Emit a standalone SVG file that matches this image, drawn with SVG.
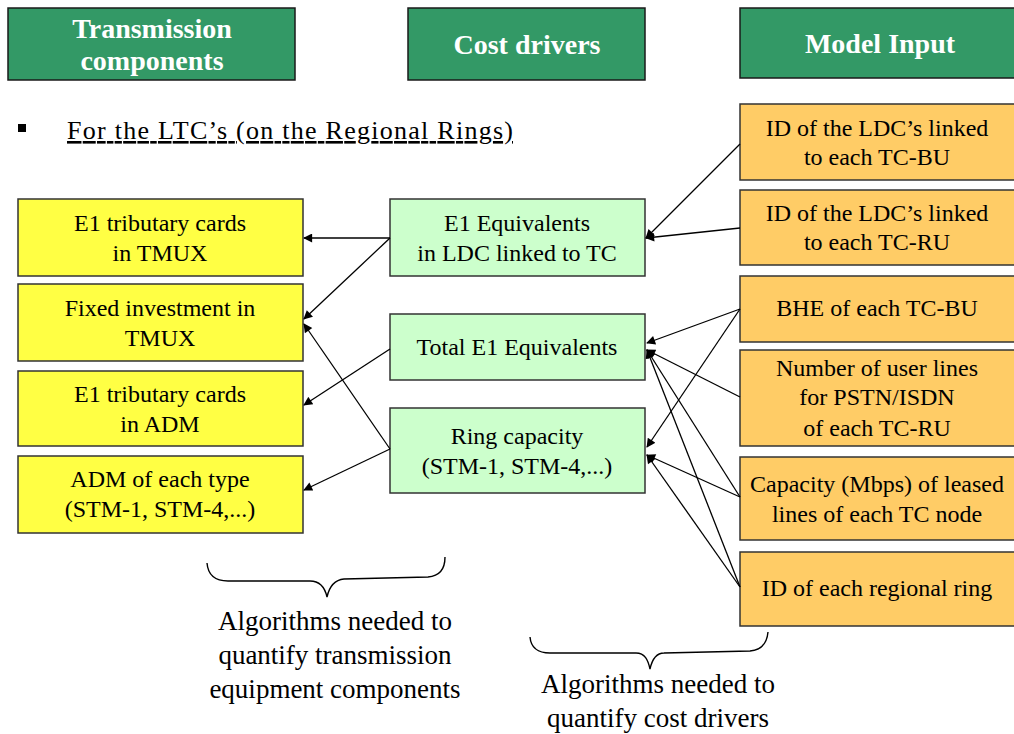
<svg xmlns="http://www.w3.org/2000/svg" width="1014" height="734" viewBox="0 0 1014 734">
  <defs>
    <style>
      .hdr { fill: #339966; stroke: #1a1a1a; stroke-width: 1.5; }
      .hdr-t { font-family: "Liberation Serif", serif; font-weight: bold; font-size: 28px; fill: #ffffff; text-anchor: middle; }
      .yel { fill: #FFFF44; stroke: #333333; stroke-width: 1.5; }
      .grn { fill: #CCFFCC; stroke: #333333; stroke-width: 1.5; }
      .org { fill: #FFCC66; stroke: #333333; stroke-width: 1.5; }
      .t { font-family: "Liberation Serif", serif; font-size: 24px; fill: #000000; text-anchor: middle; }
      .note { font-family: "Liberation Serif", serif; font-size: 27px; fill: #000000; text-anchor: middle; }
      .conn line { stroke: #000000; stroke-width: 1.3; marker-end: url(#arrow); }
      .brace { fill: none; stroke: #000000; stroke-width: 1.4; }
    </style>
    <marker id="arrow" viewBox="0 0 10 10" refX="9" refY="5" markerWidth="11" markerHeight="9" markerUnits="userSpaceOnUse" orient="auto">
      <path d="M0,0 L10,5 L0,10 Z" fill="#000000"/>
    </marker>
  </defs>

  <rect width="1014" height="734" fill="#ffffff"/>

  <!-- column headers -->
  <g id="hdr-transmission">
    <rect class="hdr" x="8" y="8" width="287" height="72"/>
    <text class="hdr-t" x="152" y="38">Transmission</text>
    <text class="hdr-t" x="152" y="70">components</text>
  </g>
  <g id="hdr-cost">
    <rect class="hdr" x="408" y="8" width="237" height="72"/>
    <text class="hdr-t" x="527" y="54">Cost drivers</text>
  </g>
  <g id="hdr-input">
    <rect class="hdr" x="740" y="8" width="280" height="70"/>
    <text class="hdr-t" x="880" y="53">Model Input</text>
  </g>

  <!-- bullet heading -->
  <g id="bullet">
    <rect x="18" y="124" width="8" height="8" fill="#000000"/>
    <text x="67" y="139" font-family="'Liberation Serif', serif" font-size="26" fill="#000000" text-decoration="underline" textLength="446">For the LTC’s (on the Regional Rings)</text>
  </g>

  <!-- transmission components -->
  <g id="tx-e1-tmux">
    <rect class="yel" x="18" y="199" width="285" height="77"/>
    <text class="t" x="160" y="231">E1 tributary cards</text>
    <text class="t" x="160" y="261">in TMUX</text>
  </g>
  <g id="tx-fixed-tmux">
    <rect class="yel" x="18" y="284" width="285" height="77"/>
    <text class="t" x="160" y="316">Fixed investment in</text>
    <text class="t" x="160" y="346">TMUX</text>
  </g>
  <g id="tx-e1-adm">
    <rect class="yel" x="18" y="371" width="285" height="75"/>
    <text class="t" x="160" y="402">E1 tributary cards</text>
    <text class="t" x="160" y="432">in ADM</text>
  </g>
  <g id="tx-adm-type">
    <rect class="yel" x="18" y="456" width="285" height="77"/>
    <text class="t" x="160" y="487">ADM of each type</text>
    <text class="t" x="160" y="517">(STM-1, STM-4,...)</text>
  </g>

  <!-- cost drivers -->
  <g id="cd-e1-ldc">
    <rect class="grn" x="390" y="199" width="255" height="77"/>
    <text class="t" x="517" y="231">E1 Equivalents</text>
    <text class="t" x="517" y="261">in LDC linked to TC</text>
  </g>
  <g id="cd-total-e1">
    <rect class="grn" x="390" y="314" width="255" height="66"/>
    <text class="t" x="517" y="355">Total E1 Equivalents</text>
  </g>
  <g id="cd-ring">
    <rect class="grn" x="390" y="408" width="255" height="85"/>
    <text class="t" x="517" y="444">Ring capacity</text>
    <text class="t" x="517" y="474">(STM-1, STM-4,...)</text>
  </g>

  <!-- model inputs -->
  <g id="in-ldc-bu">
    <rect class="org" x="740" y="104" width="280" height="76"/>
    <text class="t" x="877" y="136">ID of the LDC’s linked</text>
    <text class="t" x="877" y="165">to each TC-BU</text>
  </g>
  <g id="in-ldc-ru">
    <rect class="org" x="740" y="190" width="280" height="75"/>
    <text class="t" x="877" y="221">ID of the LDC’s linked</text>
    <text class="t" x="877" y="250">to each TC-RU</text>
  </g>
  <g id="in-bhe">
    <rect class="org" x="740" y="276" width="280" height="66"/>
    <text class="t" x="877" y="316">BHE of each TC-BU</text>
  </g>
  <g id="in-user-lines">
    <rect class="org" x="740" y="350" width="280" height="96"/>
    <text class="t" x="877" y="376">Number of user lines</text>
    <text class="t" x="877" y="405">for PSTN/ISDN</text>
    <text class="t" x="877" y="436">of each TC-RU</text>
  </g>
  <g id="in-leased">
    <rect class="org" x="740" y="457" width="280" height="83"/>
    <text class="t" x="877" y="492">Capacity (Mbps) of leased</text>
    <text class="t" x="877" y="522">lines of each TC node</text>
  </g>
  <g id="in-ring-id">
    <rect class="org" x="740" y="552" width="280" height="74"/>
    <text class="t" x="877" y="596">ID of each regional ring</text>
  </g>

  <!-- connectors -->
  <g id="connectors" class="conn">
    <!-- model inputs to cost drivers -->
    <line x1="740" y1="144" x2="646" y2="238"/>
    <line x1="740" y1="228" x2="646" y2="238"/>
    <line x1="740" y1="309" x2="647" y2="343"/>
    <line x1="740" y1="397" x2="647" y2="350"/>
    <line x1="740" y1="497" x2="647" y2="350"/>
    <line x1="740" y1="587" x2="647" y2="350"/>
    <line x1="740" y1="309" x2="647" y2="447"/>
    <line x1="740" y1="497" x2="647" y2="455"/>
    <line x1="740" y1="587" x2="647" y2="455"/>
    <!-- cost drivers to transmission components -->
    <line x1="390" y1="238" x2="304" y2="238"/>
    <line x1="390" y1="238" x2="304" y2="319"/>
    <line x1="390" y1="449" x2="304" y2="324"/>
    <line x1="390" y1="349" x2="304" y2="405"/>
    <line x1="390" y1="449" x2="304" y2="490"/>
  </g>

  <!-- grouping braces and notes -->
  <g id="note-transmission">
    <path class="brace" d="M207,563 C208,575 215,581 228,581 L310,581 C320,581 325,588 327,597 C329,588 334,580 344,579 L428,577 C440,576 445,568 445,557"/>
    <text class="note" x="335" y="630">Algorithms needed to</text>
    <text class="note" x="335" y="664">quantify transmission</text>
    <text class="note" x="335" y="698">equipment components</text>
  </g>
  <g id="note-cost">
    <path class="brace" d="M530,637 C531,648 538,653 550,653 L636,653 C645,653 648,660 650,669 C652,660 656,653 664,653 L750,651 C762,650 767,643 768,632"/>
    <text class="note" x="658" y="693">Algorithms needed to</text>
    <text class="note" x="658" y="727">quantify cost drivers</text>
  </g>
</svg>
